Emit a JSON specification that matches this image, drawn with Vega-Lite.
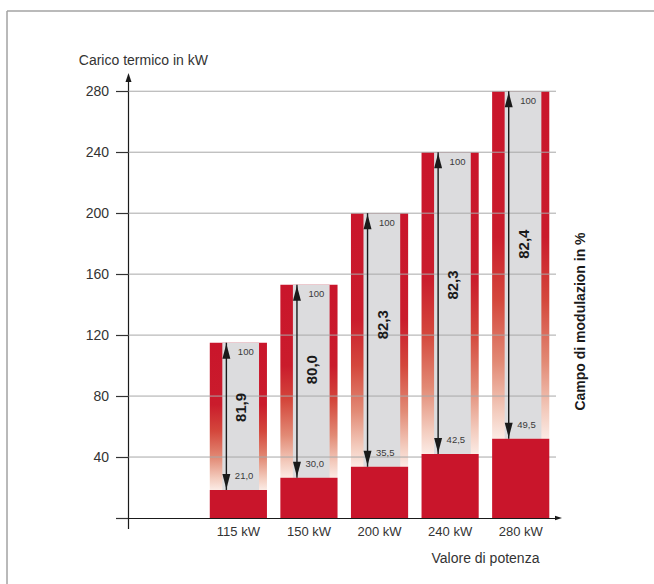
{
  "$schema": "https://vega.github.io/schema/vega-lite/v6.json",
  "width": 427.5,
  "height": 442,
  "autosize": {"type": "none"},
  "padding": {"left": 128.5, "top": 76, "right": 98, "bottom": 66},
  "background": "white",
  "config": {"font": "Liberation Sans", "view": {"stroke": null}},
  "datasets": {
    "bars": [
      {"cat": "115 kW", "cap": 115, "low": 18.4, "top": "100", "minpct": "21,0", "mod": "81,9"},
      {"cat": "150 kW", "cap": 153, "low": 26.4, "top": "100", "minpct": "30,0", "mod": "80,0"},
      {"cat": "200 kW", "cap": 200, "low": 33.6, "top": "100", "minpct": "35,5", "mod": "82,3"},
      {"cat": "240 kW", "cap": 240, "low": 42.0, "top": "100", "minpct": "42,5", "mod": "82,3"},
      {"cat": "280 kW", "cap": 280, "low": 52.0, "top": "100", "minpct": "49,5", "mod": "82,4"}
    ],
    "grid": [{"v": 40}, {"v": 80}, {"v": 120}, {"v": 160}, {"v": 200}, {"v": 240}, {"v": 280}],
    "frame": [
      {"x": -0.2842, "x2": 1.3, "y": 332.7, "y2": 332.7},
      {"x": -0.2842, "x2": -0.2842, "y": 332.7, "y2": -60}
    ],
    "axisline": [{"x": 0, "x2": 0, "y": -7.2, "y2": 289}],
    "headup": [{"x": 0, "y": 289}],
    "headright": [{"x": 1.0058, "y": 0}]
  },
  "resolve": {"scale": {"x": "independent"}, "axis": {"y": "independent"}},
  "layer": [
    {
      "layer": [
        {
          "data": {"name": "frame"},
          "mark": {"type": "rule", "color": "#a3a3a3", "strokeWidth": 1.5},
          "encoding": {
            "x": {"field": "x", "type": "quantitative", "scale": {"domain": [0, 1], "nice": false, "zero": false}, "axis": null},
            "x2": {"field": "x2"},
            "y": {"field": "y", "type": "quantitative", "scale": {"domain": [0, 290], "nice": false, "zero": false},
              "title": "Campo di modulazion in %",
              "axis": {"orient": "right", "title": "Campo di modulazion in %", "titleAngle": 270, "titleFontWeight": "bold",
                "titleFontSize": 14, "titleColor": "#1a1a1a", "titleX": 24, "titleY": 245, "titleAlign": "center",
                "titleBaseline": "middle", "labels": false, "ticks": false, "domain": false, "grid": false}},
            "y2": {"field": "y2"}
          }
        },
        {
          "data": {"name": "axisline"},
          "mark": {"type": "rule", "color": "#1a1a1a", "strokeWidth": 1.2},
          "encoding": {
            "x": {"field": "x", "type": "quantitative", "axis": null},
            "x2": {"field": "x2"},
            "y": {"field": "y", "type": "quantitative", "title": "Campo di modulazion in %"},
            "y2": {"field": "y2"}
          }
        },
        {
          "data": {"name": "headup"},
          "mark": {"type": "point", "shape": "M0,-1L0.667,1L-0.667,1Z", "size": 81, "filled": true, "opacity": 1, "color": "#1a1a1a"},
          "encoding": {
            "x": {"field": "x", "type": "quantitative", "axis": null},
            "y": {"field": "y", "type": "quantitative", "title": "Campo di modulazion in %"}
          }
        },
        {
          "data": {"name": "headright"},
          "mark": {"type": "point", "shape": "M1,0L-1,-0.667L-1,0.667Z", "size": 49, "filled": true, "opacity": 1, "color": "#1a1a1a"},
          "encoding": {
            "x": {"field": "x", "type": "quantitative", "axis": null},
            "y": {"field": "y", "type": "quantitative", "title": "Campo di modulazion in %"}
          }
        }
      ]
    },
    {
      "layer": [
        {
          "data": {"name": "bars"},
          "mark": {"type": "bar", "width": {"band": 0.81},
            "color": {"gradient": "linear", "x1": 0, "y1": 0, "x2": 0, "y2": 1,
              "stops": [
                {"offset": 0, "color": "#c9152b"},
                {"offset": 0.42, "color": "#ca1c2c"},
                {"offset": 0.6, "color": "#d4473c"},
                {"offset": 0.78, "color": "#e28a75"},
                {"offset": 0.92, "color": "#f3cbbd"},
                {"offset": 1, "color": "#fbebe5"}
              ]}},
          "encoding": {
            "x": {"field": "cat", "type": "nominal", "title": "Valore di potenza",
              "scale": {"domain": ["_", "115 kW", "150 kW", "200 kW", "240 kW", "280 kW"], "paddingInner": 0, "paddingOuter": 0.0283, "align": 1},
              "axis": {"title": "Valore di potenza", "labelExpr": "datum.label == '_' ? '' : datum.label", "labelAngle": 0,
                "labelFontSize": 13, "labelColor": "#333333", "labelPadding": 7, "ticks": false,
                "domainColor": "#1a1a1a", "domainWidth": 1.2,
                "titleFontSize": 14, "titleFontWeight": "normal", "titleColor": "#333333",
                "titleX": 302.5, "titleY": 44, "titleAlign": "left", "titleBaseline": "alphabetic"}},
            "y": {"field": "cap", "type": "quantitative", "scale": {"domain": [0, 290], "nice": false},
              "title": "Carico termico in kW",
              "axis": {"title": "Carico termico in kW", "values": [0, 40, 80, 120, 160, 200, 240, 280],
                "labelExpr": "datum.value == 0 ? '' : datum.label", "labelFontSize": 14, "labelColor": "#333333",
                "labelPadding": 7, "tickSize": 13, "tickColor": "#333333", "tickWidth": 1.2, "domain": false, "grid": false,
                "titleAngle": 0, "titleX": -50.2, "titleY": -12, "titleAlign": "left", "titleBaseline": "alphabetic",
                "titleFontSize": 14, "titleFontWeight": "normal", "titleColor": "#333333"}},
            "y2": {"field": "low"}
          }
        },
        {
          "data": {"name": "bars"},
          "mark": {"type": "bar", "width": {"band": 0.52}, "xOffset": 2.3, "color": "#dcdcde"},
          "encoding": {
            "x": {"field": "cat", "type": "nominal", "title": "Valore di potenza"},
            "y": {"field": "cap", "type": "quantitative", "title": "Carico termico in kW"},
            "y2": {"field": "low"}
          }
        },
        {
          "data": {"name": "grid"},
          "mark": {"type": "rule", "color": "#a8a8a8", "strokeWidth": 1},
          "encoding": {
            "y": {"field": "v", "type": "quantitative", "title": "Carico termico in kW"}
          }
        },
        {
          "data": {"name": "bars"},
          "mark": {"type": "bar", "width": {"band": 0.81}, "color": "#c9152b"},
          "encoding": {
            "x": {"field": "cat", "type": "nominal", "title": "Valore di potenza"},
            "y": {"field": "low", "type": "quantitative", "stack": null, "title": "Carico termico in kW"}
          }
        },
        {
          "data": {"name": "bars"},
          "mark": {"type": "rule", "xOffset": -12, "color": "#1a1a1a", "strokeWidth": 1.4},
          "encoding": {
            "x": {"field": "cat", "type": "nominal", "title": "Valore di potenza"},
            "y": {"field": "cap", "type": "quantitative", "title": "Carico termico in kW"},
            "y2": {"field": "low"}
          }
        },
        {
          "data": {"name": "bars"},
          "mark": {"type": "point", "shape": "M0,0L0.53,2L-0.53,2Z", "size": 225, "filled": true, "opacity": 1, "color": "#1a1a1a", "xOffset": -12, "yOffset": 1},
          "encoding": {
            "x": {"field": "cat", "type": "nominal", "title": "Valore di potenza"},
            "y": {"field": "cap", "type": "quantitative", "title": "Carico termico in kW"}
          }
        },
        {
          "data": {"name": "bars"},
          "mark": {"type": "point", "shape": "M0,0L0.53,-2L-0.53,-2Z", "size": 225, "filled": true, "opacity": 1, "color": "#1a1a1a", "xOffset": -12, "yOffset": -1},
          "encoding": {
            "x": {"field": "cat", "type": "nominal", "title": "Valore di potenza"},
            "y": {"field": "low", "type": "quantitative", "title": "Carico termico in kW"}
          }
        },
        {
          "data": {"name": "bars"},
          "mark": {"type": "text", "align": "left", "baseline": "middle", "fontSize": 9.5, "color": "#3a3a3a", "xOffset": -0.5, "yOffset": 9.5},
          "encoding": {
            "x": {"field": "cat", "type": "nominal", "title": "Valore di potenza"},
            "y": {"field": "cap", "type": "quantitative", "title": "Carico termico in kW"},
            "text": {"field": "top"}
          }
        },
        {
          "data": {"name": "bars"},
          "mark": {"type": "text", "align": "left", "baseline": "middle", "fontSize": 9.5, "color": "#3a3a3a", "xOffset": -3.5, "yOffset": -14},
          "encoding": {
            "x": {"field": "cat", "type": "nominal", "title": "Valore di potenza"},
            "y": {"field": "low", "type": "quantitative", "title": "Carico termico in kW"},
            "text": {"field": "minpct"}
          }
        },
        {
          "data": {"name": "bars"},
          "transform": [{"calculate": "datum.low + 0.56 * (datum.cap - datum.low)", "as": "mid"}],
          "mark": {"type": "text", "align": "center", "baseline": "middle", "angle": 270, "fontSize": 15, "fontWeight": "bold", "color": "#1a1a1a", "xOffset": 3},
          "encoding": {
            "x": {"field": "cat", "type": "nominal", "title": "Valore di potenza"},
            "y": {"field": "mid", "type": "quantitative", "title": "Carico termico in kW"},
            "text": {"field": "mod"}
          }
        }
      ]
    }
  ]
}
